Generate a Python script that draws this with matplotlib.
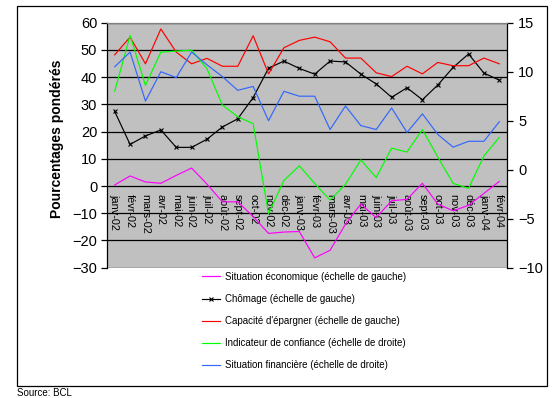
import matplotlib
matplotlib.use("Agg")
import matplotlib.pyplot as plt
from matplotlib.patches import Rectangle

plt.rcParams['font.family'] = ['Liberation Sans', 'DejaVu Sans']

months = ["janv-02", "févr-02", "mars-02", "avr-02", "mai-02", "juin-02", "juil-02",
          "août-02", "sept-02", "oct-02", "nov-02", "déc-02", "janv-03", "févr-03",
          "mars-03", "avr-03", "mai-03", "juin-03", "juil-03", "août-03", "sept-03",
          "oct-03", "nov-03", "déc-03", "janv-04", "févr-04"]

# left scale
situation_eco = [0.4, 3.7, 1.5, 1.0, 3.9, 6.6, 0.7, -5.8, -5.8, -11.2, -17.4, -16.9, -16.7,
                 -26.4, -23.6, -14.0, -6.6, -11.6, -5.4, -4.9, 1.0, -6.6, -9.1, -7.1, -2.7, 1.7]
chomage = [27.4, 15.3, 18.4, 20.6, 14.2, 14.2, 17.2, 21.7, 24.7, 32.5, 43.3, 45.9, 43.2,
           41.1, 45.9, 45.6, 41.1, 37.5, 32.6, 36.1, 31.7, 37.1, 43.6, 48.5, 41.5, 38.9]
capacite = [48.2, 54.7, 44.9, 57.7, 49.2, 44.9, 46.9, 44.0, 44.0, 55.2, 41.2, 50.8, 53.5,
            54.7, 53.0, 47.0, 47.0, 41.6, 40.2, 44.0, 41.2, 45.4, 44.2, 44.2, 47.0, 44.9]
# right scale
confiance = [8.0, 13.7, 8.6, 12.0, 12.1, 12.2, 10.3, 6.6, 5.4, 4.7, -4.5, -1.1, 0.4,
             -1.4, -3.1, -1.5, 1.0, -0.8, 2.2, 1.8, 4.1, 1.3, -1.4, -1.9, 1.4, 3.3]
situation_fin = [10.5, 12.0, 7.0, 10.0, 9.4, 12.0, 10.7, 9.5, 8.1, 8.5, 5.0, 8.0, 7.5,
                 7.5, 4.1, 6.5, 4.5, 4.1, 6.3, 3.8, 5.7, 3.6, 2.3, 2.9, 2.9, 4.9]

left_ticks = [-30, -20, -10, 0, 10, 20, 30, 40, 50, 60]
right_ticks = [-10, -5, 0, 5, 10, 15]

W, H = 556, 398
fig = plt.figure(figsize=(W / 100, H / 100), dpi=100)
fig.patch.set_facecolor('white')

# outer frame
fig.add_artist(Rectangle((17 / W, 1 - 386 / H), (547 - 17) / W, (386 - 6) / H,
                         transform=fig.transFigure, fill=False, edgecolor='black',
                         linewidth=0.9))

left, right, top, bottom = 107, 507, 22.7, 267.7
ax = fig.add_axes([left / W, 1 - bottom / H, (right - left) / W, (bottom - top) / H])
ax.set_facecolor('#C0C0C0')
ax2 = ax.twinx()

x = list(range(len(months)))
lw = 0.85
l1, = ax.plot(x, situation_eco, color='#FF00FF', lw=lw)
l2, = ax.plot(x, chomage, color='black', lw=lw, marker='x', markersize=3, markeredgewidth=0.8)
l3, = ax.plot(x, capacite, color='#FF0000', lw=lw)
l4, = ax2.plot(x, confiance, color='#00FF00', lw=lw)
l5, = ax2.plot(x, situation_fin, color='#3366FF', lw=lw)

ax.set_xlim(-0.5, len(months) - 0.5)
ax.set_ylim(-30, 60)
ax2.set_ylim(-10, 15)
ax.set_yticks(left_ticks)
ax2.set_yticks(right_ticks)
ax.yaxis.grid(True, color='black', linewidth=0.9)
ax.set_axisbelow(True)

ax.set_xticks(x)
ax.set_xticklabels(months)
ax.spines['bottom'].set_position(('data', 0))
ax.tick_params(axis='x', length=0, pad=6, labelrotation=-90, labelsize=7.8)
for lab in ax.get_xticklabels():
    lab.set_va('top')
    lab.set_ha('center')

for a in (ax, ax2):
    a.spines['top'].set_color('#808080')
    a.spines['top'].set_linewidth(0.8)
    a.spines['bottom'].set_visible(False)
ax.spines['right'].set_visible(False)
ax2.spines['left'].set_visible(False)
ax.spines['left'].set_linewidth(0.9)
ax2.spines['right'].set_linewidth(0.9)

ax.tick_params(axis='y', labelsize=10.5, length=4, width=0.9, pad=3)
ax2.tick_params(axis='y', labelsize=10.5, length=4, width=0.9, pad=4)

ax.set_ylabel('Pourcentages pondérés', fontsize=10, fontweight='bold')
ax.yaxis.set_label_coords(-0.108, 0.525)

labels = ["Situation économique (échelle de gauche)",
          "Chômage (échelle de gauche)",
          "Capacité d'épargner (échelle de gauche)",
          "Indicateur de confiance (échelle de droite)",
          "Situation financière (échelle de droite)"]
leg = fig.legend([l1, l2, l3, l4, l5], labels, loc='upper left',
                 bbox_to_anchor=(198 / W, 1 - 268 / H), frameon=False, fontsize=7,
                 handlelength=1.9, handletextpad=0.5, labelspacing=1.25, borderaxespad=0)

fig.text(17 / W, 1 - 393 / H, 'Source: BCL', fontsize=7, va='center', ha='left')

fig.savefig('out.png', dpi=100)
